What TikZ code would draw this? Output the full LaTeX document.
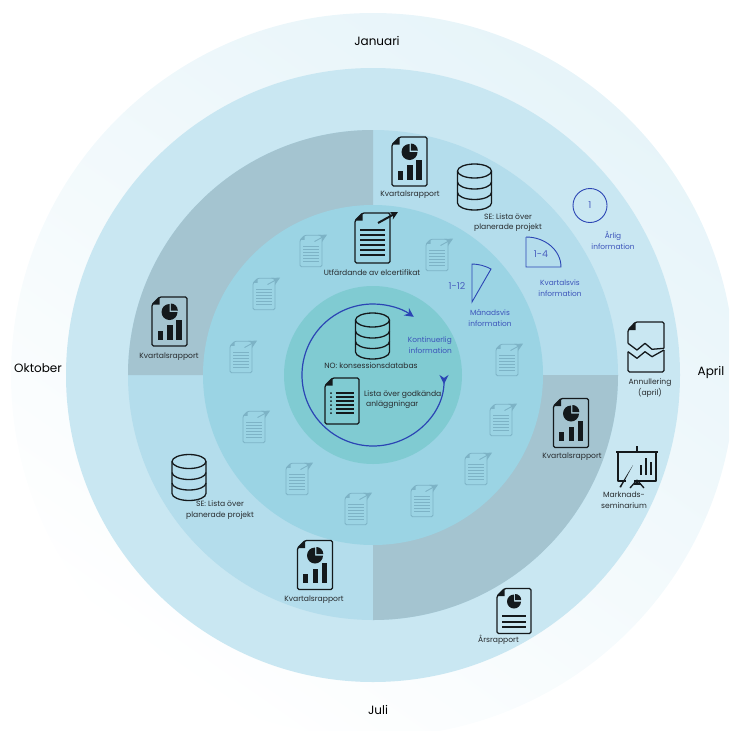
\documentclass[tikz,border=0pt]{standalone}
\usepackage{fontspec}
\setmainfont{Poppins}
\usetikzlibrary{arrows.meta}

\definecolor{outerring}{HTML}{C9E7F2}
\definecolor{lightquad}{HTML}{B4DDEC}
\definecolor{greyquad}{HTML}{A4C4D0}
\definecolor{monthdisc}{HTML}{9BD4E4}
\definecolor{coredisc}{HTML}{80CBD2}
\definecolor{infoblue}{HTML}{2B45B4}
\definecolor{icondark}{HTML}{14191C}
\definecolor{iconfaded}{HTML}{7DB3C6}

\newcommand{\pageoutline}[2]{
    \draw[iconline, rounded corners=1.5] (-#1,#2-7.5) -- (-#1+7.5,#2) -- (#1,#2) -- (#1,-#2) -- (-#1,-#2) -- cycle;
    \fill[iconfill] (-#1,#2-7.5) -- (-#1+7.5,#2) -- (-#1+7.5,#2-7.5) -- cycle;
}

\tikzset{
    iconline/.style={draw=icondark, line width=1.3pt, line join=round},
    iconbar/.style={draw=icondark, line width=2pt},
    iconfill/.style={fill=icondark},
    fadedicon/.style={scale=.63,
        iconline/.style={draw=iconfaded, line width=.8pt, line join=round},
        iconbar/.style={draw=iconfaded, line width=.9pt},
        iconfill/.style={fill=iconfaded}},
    lbl/.style={font=\fontsize{7.6}{10.6}\selectfont, text=icondark!92, align=center, inner sep=0pt},
    bluelbl/.style={font=\fontsize{7.4}{11}\selectfont, text=infoblue!92, align=center, inner sep=0pt},
    bluenum/.style={font=\fontsize{9.5}{11}\selectfont, text=infoblue!85, inner sep=0pt},
    monthlbl/.style={font=\fontsize{12}{14}\selectfont, text=black, inner sep=0pt},
    reporticon/.pic={
        \pageoutline{17.5}{24.5}
        \fill[iconfill] (0,9.5) -- (0,17.5) arc[start angle=90, end angle=360, radius=8] -- cycle;
        \fill[iconfill] (1.3,11) -- (1.3,18) arc[start angle=90, end angle=0, radius=7] -- cycle;
        \fill[iconfill] (-12,-18) rectangle (-7,-9);
        \fill[iconfill] (-2.5,-18) rectangle (3,-3.7);
        \fill[iconfill] (6.5,-18) rectangle (12,2);
    },
    yearicon/.pic={
        \pageoutline{17}{22.5}
        \fill[iconfill] (0,9.5) -- (0,16.5) arc[start angle=90, end angle=360, radius=7] -- cycle;
        \fill[iconfill] (1.2,11) -- (1.2,17) arc[start angle=90, end angle=0, radius=6] -- cycle;
        \draw[iconbar] (-12,-5) -- (12,-5);
        \draw[iconbar] (-12,-10.5) -- (12,-10.5);
        \draw[iconbar] (-12,-16) -- (12,-16);
    },
    dbicon/.pic={
        \draw[iconline] (0,16) ellipse (17 and 7);
        \draw[iconline] (-17,16) -- (-17,-16) arc[start angle=180, end angle=360, x radius=17, y radius=7] -- (17,16);
        \draw[iconline] (-17,5) arc[start angle=180, end angle=360, x radius=17, y radius=7];
        \draw[iconline] (-17,-5.5) arc[start angle=180, end angle=360, x radius=17, y radius=7];
    },
    certicon/.pic={
        \pageoutline{17.5}{25}
        \draw[iconbar] (-12.5,8) -- (12.5,8);
        \draw[iconbar] (-12.5,3) -- (12.5,3);
        \draw[iconbar] (-12.5,-2) -- (12.5,-2);
        \draw[iconbar] (-12.5,-7) -- (12.5,-7);
        \draw[iconbar] (-12.5,-12) -- (12.5,-12);
        \draw[iconbar] (-12.5,-17) -- (12.5,-17);
        \draw[iconbar, -{Stealth[length=8pt, width=8pt]}] (5.5,15) -- (25.5,26);
    },
    listicon/.pic={
        \pageoutline{17}{23}
        \foreach \yy in {8,4,0,-4,-8,-12} {
            \fill[iconfill] (-11,\yy) circle (1);
            \draw[iconbar, line width=1.6pt] (-6.3,\yy) -- (12.3,\yy);
        }
    },
    tornicon/.pic={
        \draw[iconline, rounded corners=1.5] (-18,3.7) -- (-18,17) -- (-10.5,25) -- (18,25) -- (18,-1.3);
        \draw[iconline] (-18,3.7) -- (-9,-3) -- (-1,3.7) -- (6,-2.3) -- (18,-1.3);
        \draw[iconline] (-18,-4.7) -- (-9,-11.3) -- (-1,-4.7) -- (6,-9.7) -- (18,-3);
        \draw[iconline, rounded corners=1.5] (-18,-4.7) -- (-18,-25) -- (18,-25) -- (18,-3);
        \fill[iconfill] (-18,17) -- (-10.5,25) -- (-10.5,17) -- cycle;
    },
    boardicon/.pic={
        \draw[iconbar] (-21,14) -- (21,14);
        \draw[iconbar, line width=1.5pt] (0,14) -- (0,20);
        \draw[iconline] (-19,14) -- (-19,-15) -- (-11,-15);
        \draw[iconline] (-3,-15) -- (19,-15) -- (19,14);
        \fill[iconfill] (2.8,-9) rectangle (4.8,1);
        \fill[iconfill] (7.8,-9) rectangle (9.8,7.7);
        \fill[iconfill] (12.8,-9) rectangle (14.8,4.3);
        \fill[iconfill] (-17.6,-21) -- (-4,1) -- (-16,-21.5) -- cycle;
        \draw[iconline] (0,-14) -- (-7,-22);
        \draw[iconline] (0,-14) -- (7,-22);
        \draw[iconline] (-3.5,-18) -- (3.5,-18);
        \draw[iconline] (0,-15) -- (0,-19);
    }
}

\begin{document}
\begin{tikzpicture}[x=1pt, y=1pt]
    \useasboundingbox (0,0) rectangle (729,-731);
    \clip (0,0) rectangle (729,-731);

    \coordinate (O) at (373,-375);

    % rings
    \shade[top color=outerring!45, bottom color=white, shading angle=-35] (O) circle (362);
    \fill[outerring] (O) circle (307);
    \fill[lightquad] (O) circle (245);
    \fill[greyquad] (O) -- (128,-375) arc[start angle=180, end angle=90, radius=245] -- cycle;
    \fill[greyquad] (O) -- (618,-375) arc[start angle=0, end angle=-90, radius=245] -- cycle;
    \fill[monthdisc] (O) circle (170);
    \fill[coredisc] (O) circle (89);

    % months
    \node[monthlbl] (jan) at (377,-41) {Januari};
    \node[monthlbl] (apr) at (711,-372) {April};
    \node[monthlbl] (jul) at (378,-710) {Juli};
    \node[monthlbl] (okt) at (38,-368) {Oktober};

    % quarterly reports
    \pic at (409.5,-161.5) {reporticon};
    \pic at (169.5,-321.5) {reporticon};
    \pic at (571,-423) {reporticon};
    \pic at (315,-565) {reporticon};
    \node[lbl] (kv1) at (410,-195) {Kvartalsrapport};
    \node[lbl] (kv2) at (169,-357) {Kvartalsrapport};
    \node[lbl] (kv3) at (572,-457) {Kvartalsrapport};
    \node[lbl] (kv4) at (314,-600) {Kvartalsrapport};

    % databases
    \pic at (474.5,-187) {dbicon};
    \pic at (189,-477.5) {dbicon};
    \pic at (372.5,-336) {dbicon};
    \node[lbl] (se1) at (508,-222.5) {SE: Lista över\\planerade projekt};
    \node[lbl] (se2) at (220,-510) {SE: Lista över\\planerade projekt};
    \node[lbl] (no) at (371,-366) {NO: konsessionsdatabas};

    % other documents
    \pic at (372.5,-238) {certicon};
    \node[lbl] (cert) at (372,-273) {Utfärdande av elcertifikat};
    \pic at (342,-401) {listicon};
    \node[lbl, align=left, anchor=west] (lista) at (364,-399.5) {Lista över godkända\\\ anläggningar};
    \pic at (646,-347) {tornicon};
    \node[lbl] (ann) at (650,-388) {Annullering\\(april)};
    \pic at (637,-466) {boardicon};
    \node[lbl] (sem) at (624,-500.5) {Marknads-\\seminarium};
    \pic at (514,-611) {yearicon};
    \node[lbl] (ars) at (498.5,-640) {Årsrapport};

    % monthly certificates
    \pic[fadedicon] at (311,-251) {certicon};
    \pic[fadedicon] at (437,-255) {certicon};
    \pic[fadedicon] at (264,-294) {certicon};
    \pic[fadedicon] at (507,-360) {certicon};
    \pic[fadedicon] at (241,-357) {certicon};
    \pic[fadedicon] at (501,-420) {certicon};
    \pic[fadedicon] at (254,-427) {certicon};
    \pic[fadedicon] at (476,-469) {certicon};
    \pic[fadedicon] at (297,-479) {certicon};
    \pic[fadedicon] at (422,-501) {certicon};
    \pic[fadedicon] at (356,-509) {certicon};

    % legend
    \draw[infoblue, line width=.9pt] (590,-205.5) circle (17);
    \node[bluenum] (one) at (590,-205.5) {1};
    \node[bluelbl] (yearly) at (613,-240) {Årlig\\information};

    \draw[infoblue, line width=.9pt] (526,-237) -- (526,-267) -- (561,-267) arc[start angle=0, end angle=90, x radius=35, y radius=30];
    \node[bluenum] (quarter) at (541,-254) {1-4};
    \node[bluelbl] (quarterly) at (560,-288.5) {Kvartalsvis\\information};

    \draw[infoblue, line width=.9pt] (472,-302) -- (472,-264) to[bend left=12] (491,-269) -- cycle;
    \node[bluenum] (month) at (457,-286) {1-12};
    \node[bluelbl] (monthly) at (490,-318.5) {Månadsvis\\information};

    \draw[infoblue, line width=1.2pt, {Stealth[reversed, length=9pt, width=9pt]}-{Stealth[length=9pt, width=9pt]}] (444,-375) arc[start angle=0, end angle=-305, radius=71];
    \node[bluelbl, align=right, anchor=east] (cont) at (452,-345.5) {Kontinuerlig\\information};

\end{tikzpicture}
\end{document}
